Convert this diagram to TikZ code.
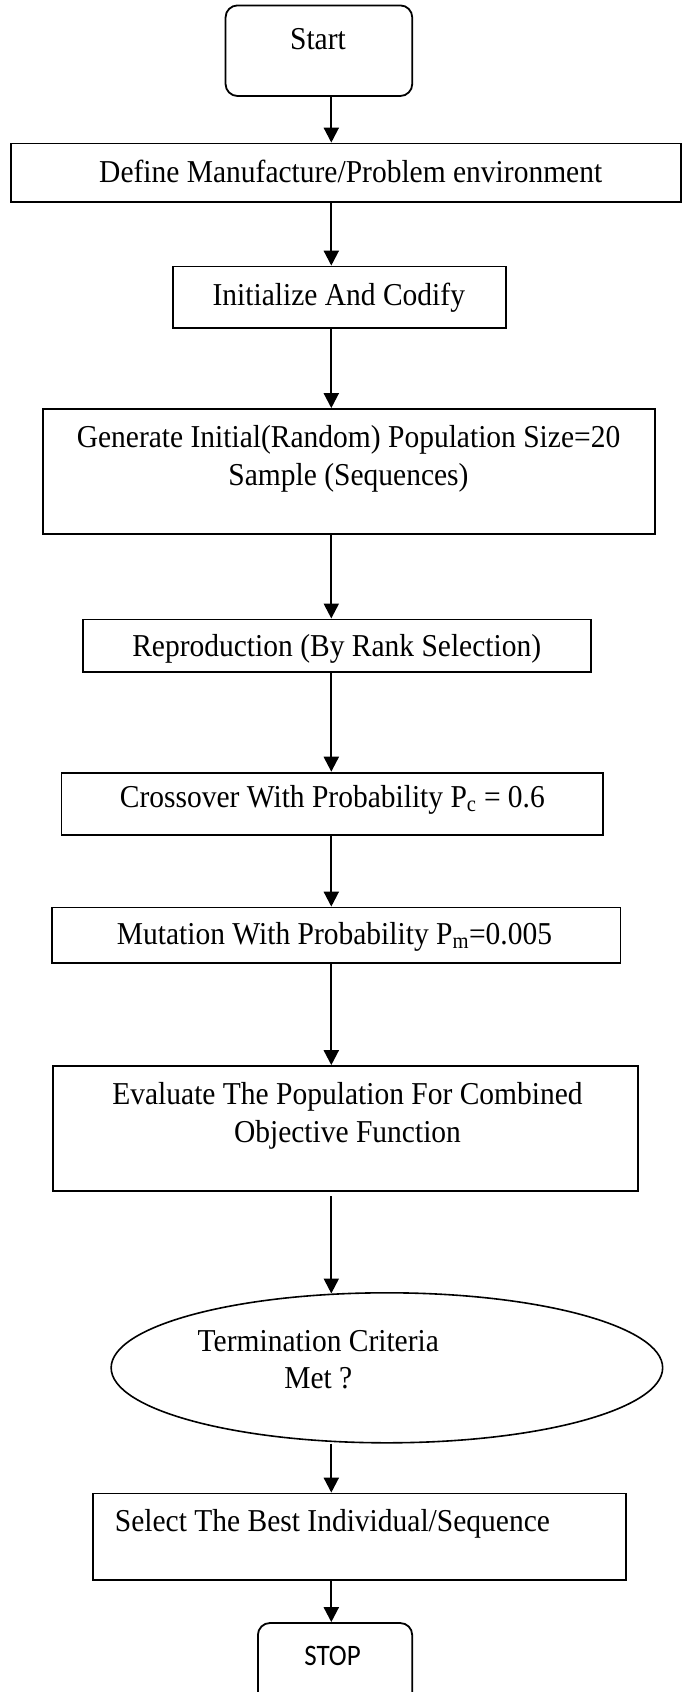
\documentclass[tikz,border=0pt]{standalone}
\usepackage{fontspec}
\setmainfont{Liberation Serif}
\newfontfamily\stopfont{Carlito}
\usetikzlibrary{arrows.meta,shapes.geometric}
\newcommand{\twoline}[1]{\begin{tabular}[t]{@{}c@{}}#1\end{tabular}}
\newcommand{\tall}[1]{\scalebox{1}[1.08]{#1}}
\begin{document}
\begin{tikzpicture}[x=1pt,y=-1pt,
  every node/.style={font=\fontsize{29.5}{35}\selectfont},
  box/.style={draw, line width=1.8pt, rectangle, inner sep=0pt},
  rbox/.style={box, rounded corners=12pt},
  ebox/.style={draw, line width=1.6pt, ellipse, inner sep=0pt},
  txt/.style={anchor=base, inner sep=0pt},
  arr/.style={line width=2.2pt, -{Triangle[length=15pt,width=15pt]}},
]
\useasboundingbox (0,0) rectangle (682,1692);
\clip (0,0) rectangle (682,1692);
\fill[white] (0,0) rectangle (682,1692);

% boxes
\node[rbox, minimum width=186.7pt, minimum height=90.6pt] (start) at (318.9,50.7) {};
\node[box, minimum width=670pt, minimum height=58.3pt] (define) at (345.8,172.65) {};
\node[box, minimum width=333.4pt, minimum height=61.5pt] (init) at (339.4,297.25) {};
\node[box, minimum width=611.8pt, minimum height=125.2pt] (gen) at (349.1,471.6) {};
\node[box, minimum width=508.2pt, minimum height=52.9pt] (repro) at (337.2,645.85) {};
\node[box, minimum width=541.7pt, minimum height=62pt] (cross) at (332.35,803.6) {};
\node[box, minimum width=568.7pt, minimum height=55.1pt] (mut) at (336.15,935.05) {};
\node[box, minimum width=584.8pt, minimum height=125.3pt] (eval) at (345.3,1128.65) {};
\node[ebox, minimum width=551.5pt, minimum height=150pt] (term) at (386.9,1367.8) {};
\node[box, minimum width=533.1pt, minimum height=86.3pt] (select) at (359.35,1536.65) {};
\node[rbox, minimum width=154.3pt, minimum height=87pt] (stop) at (335.05,1666.5) {};

% texts
\node[txt] (tstart) at (318,49.3) {\tall{Start}};
\node[txt] (tdefine) at (350.7,182) {\tall{Define Manufacture/Problem environment}};
\node[txt] (tinit) at (338.8,305) {\tall{Initialize And Codify}};
\node[txt] (tgen) at (348.5,447.5) {\tall{\twoline{Generate Initial(Random) Population Size=20\\Sample (Sequences)}}};
\node[txt] (trepro) at (336.7,656.5) {\tall{Reproduction (By Rank Selection)}};
\node[txt] (tcross) at (332.4,807.5) {\tall{Crossover With Probability P\textsubscript{c} = 0.6}};
\node[txt] (tmut) at (334.5,944.5) {\tall{Mutation With Probability P\textsubscript{m}=0.005}};
\node[txt] (teval) at (347.5,1104.5) {\tall{\twoline{Evaluate The Population For Combined\\Objective Function}}};
\node[txt] (tterm) at (318.3,1351) {\tall{\twoline{Termination Criteria\\Met ?}}};
\node[txt] (tselect) at (332.4,1531.5) {\tall{Select The Best Individual/Sequence}};
\node[txt, font=\stopfont\fontsize{27}{32}\selectfont] (tstop) at (332.5,1665) {\scalebox{1}[1.1]{STOP}};

% connectors
\coordinate (ax) at (331.3,0);
\draw[arr] (start.south -| ax) -- (define.north -| ax);
\draw[arr] (define.south -| ax) -- (init.north -| ax);
\draw[arr] (init.south -| ax) -- (gen.north -| ax);
\draw[arr] (gen.south -| ax) -- (repro.north -| ax);
\draw[arr] (repro.south -| ax) -- (cross.north -| ax);
\draw[arr] (cross.south -| ax) -- (mut.north -| ax);
\draw[arr] (mut.south -| ax) -- (eval.north -| ax);
\draw[arr, shorten <=4pt] (eval.south -| ax) -- ([yshift=-1.5pt]term.north -| ax);
\draw[arr] (term.south -| ax) -- (select.north -| ax);
\draw[arr] (select.south -| ax) -- (stop.north -| ax);
\end{tikzpicture}
\end{document}
